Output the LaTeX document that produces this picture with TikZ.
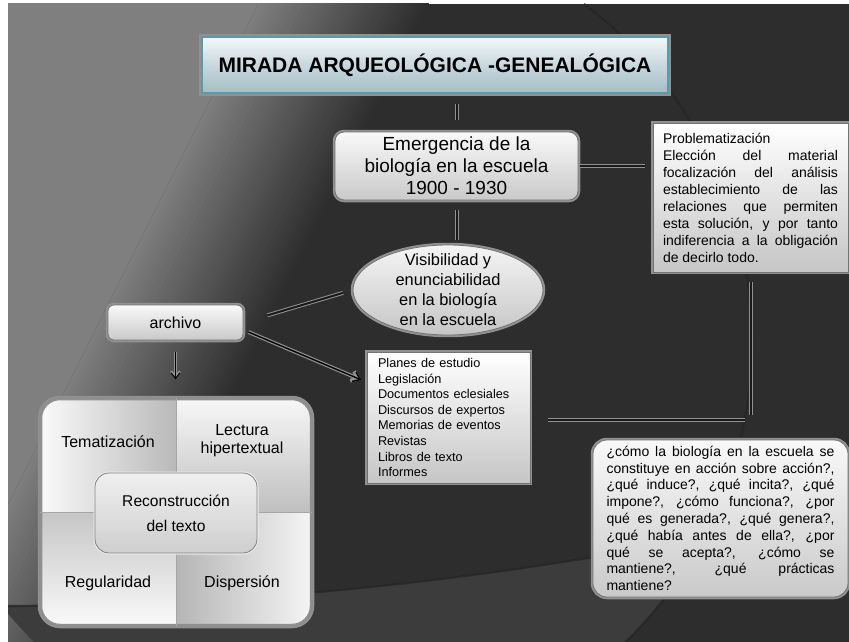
\documentclass[tikz,border=0pt]{standalone}
\usepackage{fontspec}
\setmainfont{Liberation Sans}
\usetikzlibrary{shapes.geometric,arrows.meta,calc}

\definecolor{bglight}{RGB}{127,127,127}
\definecolor{bgdark}{RGB}{45,45,45}
\definecolor{bglower}{RGB}{60,60,60}
\definecolor{glowgray}{RGB}{145,145,145}
\definecolor{titletop}{RGB}{243,248,250}
\definecolor{titlemid}{RGB}{200,216,222}
\definecolor{titlebot}{RGB}{165,189,197}
\definecolor{titleedge}{RGB}{91,154,168}

\tikzset{
  glow/.style={preaction={draw=glowgray, line width=4.5pt}},
  silverbox/.style={glow, rounded corners=9pt, draw=black!55, line width=0.8pt,
    top color=gray!5, bottom color=gray!42, inner sep=0pt, align=center},
  flatbox/.style={glow, draw=black!55, line width=0.8pt,
    top color=white, bottom color=gray!45, inner sep=0pt},
  titlebox/.style={preaction={draw=glowgray, line width=6pt}, draw=titleedge, line width=2pt,
    top color=titletop, bottom color=titlebot, middle color=titlemid, inner sep=0pt},
  quadlabel/.style={font=\fontsize{16}{18}\selectfont, align=center},
  link/.style={draw=glowgray, double=black!90, double distance=2pt, line width=1pt},
  arrowlink/.style={draw=black, line width=1.4pt, -{Straight Barb[length=7pt,width=10pt]},
    preaction={draw=glowgray, line width=3.8pt, -{Straight Barb[length=7pt,width=10pt]}}},
  downarrow/.style={draw=black, line width=1.1pt, -{Straight Barb[length=6pt,width=9pt]},
    preaction={draw=glowgray, line width=2.8pt, -{Straight Barb[length=6pt,width=9pt]}}},
  arcline/.style={draw=black!85, line width=2.2pt, opacity=0.8},
  divider/.style={draw=gray!70, line width=0.9pt}
}

\begin{document}
\begin{tikzpicture}[x=1pt,y=-1pt]
    \useasboundingbox (0,0) rectangle (849,642);
    \fill[white] (0,0) rectangle (849,642);

    % Background
    \begin{scope}
        \clip (8,4) rectangle (849,642);
        \fill[bgdark] (8,4) rectangle (849,642);
        \fill[bglight] (-1000,-50) -- (285,-50) -- (-90,700) -- (-1000,700) -- cycle;
        \foreach \i in {0,...,33}{
            \pgfmathsetmacro{\cl}{260+5*\i}
            \pgfmathtruncatemacro{\mix}{100-100*(\i+0.5)/34}
            \fill[bglight!\mix!bgdark] (\cl+25,-50) -- (\cl+30.5,-50) -- (\cl-344.5,700) -- (\cl-350,700) -- cycle;
        }
        \begin{scope}
            \clip (330,341) circle (422);
            \fill[bglower] (0,-3011) ++(70:3617) arc[start angle=70, end angle=92, radius=3617]
                -- (-200,800) -- (1300,800) -- cycle;
        \end{scope}
        \draw[arcline] (330,341) ++(-53:422) arc[start angle=-53, end angle=46, radius=422];
        \draw[arcline] (0,-3011) ++(76:3617) arc[start angle=76, end angle=91, radius=3617];
    \end{scope}

    % Title
    \node[titlebox, minimum width=466pt, minimum height=56pt,
          font=\bfseries\fontsize{21}{25}\selectfont] (title) at (435,65)
          {MIRADA ARQUEOLÓGICA -GENEALÓGICA};

    % Emergencia
    \node[silverbox, minimum width=243pt, minimum height=68pt,
          font=\fontsize{19}{22}\selectfont] (emerg) at (456.5,166)
          {Emergencia de la\\biología en la escuela\\1900 - 1930};

    % Visibilidad
    \node[ellipse, glow, draw=black!55, line width=0.8pt, top color=gray!8, bottom color=gray!45,
          minimum width=190pt, minimum height=90pt, inner sep=0pt] (visib) at (448,290) {};
    \node[font=\fontsize{16.4}{20}\selectfont, align=center] (visibtext) at (visib)
          {Visibilidad y\\enunciabilidad\\en la biología\\en la escuela};

    % Problematizacion
    \node[flatbox, minimum width=195pt, minimum height=149pt, text width=175pt, align=justify,
          font=\fontsize{14}{17}\selectfont] (prob) at (750.5,197.5)
          {Problematización\\
           Elección del material\linebreak
           focalización del análisis\linebreak
           establecimiento de las\linebreak
           relaciones que permiten\linebreak
           esta solución, y por tanto\linebreak
           indiferencia a la obligación\linebreak
           de decirlo todo.};

    % archivo
    \node[silverbox, rounded corners=6pt, minimum width=135pt, minimum height=35pt,
          font=\fontsize{16}{19}\selectfont] (archivo) at (175.5,322.5) {archivo};

    % Fuentes
    \node[flatbox, minimum width=163pt, minimum height=131pt, text width=141pt, align=left,
          font=\fontsize{12.7}{15.6}\selectfont] (planes) at (448.5,417.5)
          {Planes de estudio\\Legislación\\Documentos eclesiales\\Discursos de expertos\\
           Memorias de eventos\\Revistas\\Libros de texto\\Informes};

    % Preguntas
    \node[silverbox, rounded corners=14pt, minimum width=255pt, minimum height=157pt,
          text width=228pt, align=justify, font=\fontsize{14}{16.8}\selectfont] (quest) at (720.5,518.5)
          {¿cómo la biología en la escuela se\linebreak
           constituye en acción sobre acción?,\linebreak
           ¿qué induce?, ¿qué incita?, ¿qué\linebreak
           impone?, ¿cómo funciona?, ¿por\linebreak
           qué es generada?, ¿qué genera?,\linebreak
           ¿qué había antes de ella?, ¿por\linebreak
           qué se acepta?, ¿cómo se\linebreak
           mantiene?, ¿qué prácticas\linebreak
           mantiene?};

    % Bloque de cuatro partes
    \begin{scope}
        \clip[rounded corners=20pt] (40,398) rectangle (312,626);
        \shade[left color=gray!4, right color=gray!55] (40,398) rectangle (176,512);
        \shade[top color=gray!6, bottom color=gray!50] (176,398) rectangle (312,512);
        \shade[top color=gray!45, bottom color=gray!4] (40,512) rectangle (176,626);
        \shade[left color=gray!58, right color=gray!8] (176,512) rectangle (312,626);
    \end{scope}
    \node[glow, draw=black!45, line width=0.8pt, rounded corners=20pt,
          minimum width=272pt, minimum height=228pt, inner sep=0pt] (block) at (176,512) {};
    \draw[divider] (block.north) -- (block.south);
    \draw[divider] (block.west) -- (block.east);
    \node[quadlabel] (tema) at (108,442) {Tematización};
    \node[quadlabel] (lect) at (242,441) {Lectura\\hipertextual};
    \node[quadlabel] (regu) at (108,583) {Regularidad};
    \node[quadlabel] (disp) at (242,583) {Dispersión};
    \node[preaction={draw=gray!15, line width=3pt}, draw=black!50, line width=0.8pt, rounded corners=14pt,
          top color=gray!12, bottom color=gray!38, minimum width=162pt, minimum height=80pt,
          font=\fontsize{15.6}{25}\selectfont, align=center] (recon) at (176,513)
          {Reconstrucción\\del texto};

    % Connectors
    \draw[link, shorten <=10pt, shorten >=12pt] (emerg.north |- title.south) -- (emerg.north);
    \draw[link, shorten <=2pt, shorten >=8pt] (emerg.east) -- (emerg.east -| prob.west);
    \draw[link, shorten <=10pt, shorten >=5pt] (emerg.south) -- (emerg.south |- visib.north);
    \draw[link, shorten <=25pt, shorten >=10pt] (archivo.east) -- (visib.west);
    \draw[arrowlink] ($(archivo.east)+(5,9.5)$) -- ($(planes.west)+(-5,-37.5)$);
    \draw[downarrow] ($(archivo.south)+(0,12)$) -- ($(archivo.south |- block.north)+(0,-18)$);
    \coordinate (elbow) at ($(prob.south |- planes.east)+(0,2.5)$);
    \draw[link, shorten <=10pt, shorten >=5pt] (prob.south) -- (elbow);
    \draw[link, shorten <=18pt, shorten >=6pt] (planes.east |- elbow) -- (elbow);

\end{tikzpicture}
\end{document}
